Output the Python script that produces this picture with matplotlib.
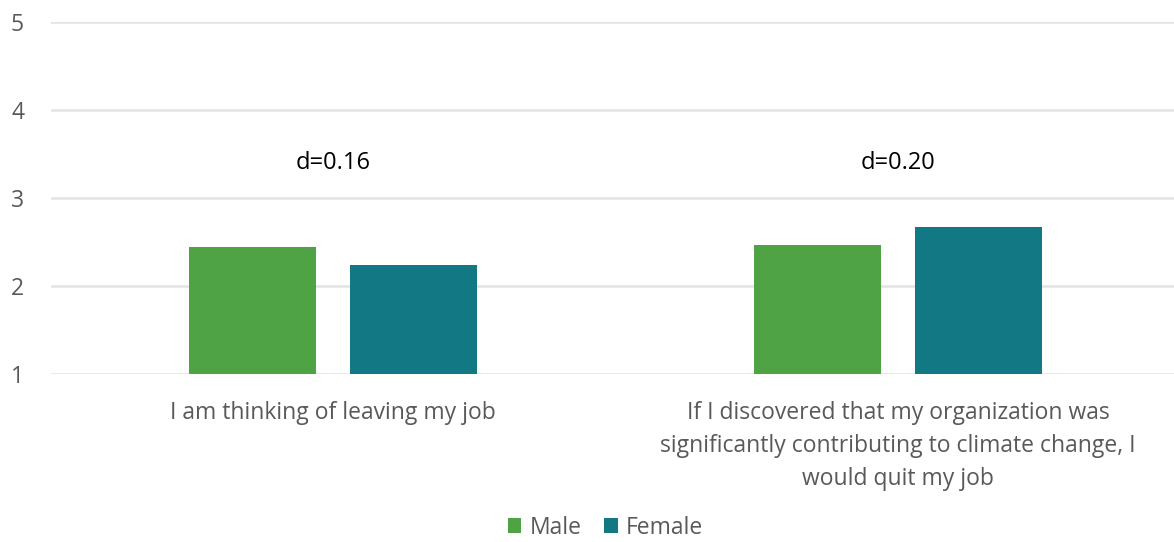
import matplotlib
matplotlib.use("Agg")
import matplotlib.pyplot as plt
import numpy as np

categories = ["I am thinking of leaving my job",
              "If I discovered that my organization was\nsignificantly contributing to climate change, I\nwould quit my job"]
series_names = ["Male", "Female"]
male = [2.45, 2.47]
female = [2.24, 2.67]
d_labels = ["d=0.16", "d=0.20"]
d_y = [3.4, 3.4]
yticks = [1, 2, 3, 4, 5]

colors = ["#50A344", "#127884"]
gray = "#595959"

plt.rcParams['font.family'] = ['Open Sans', 'DejaVu Sans']

fig = plt.figure(figsize=(11.74, 5.42), dpi=100)
ax = fig.add_axes([50.5/1174, 1-374.3/542, 1130/1174, (374.3-22.3)/542])

x = np.arange(len(categories))
w = 0.225
off = 0.1425
ax.bar(x - off, np.array(male) - 1, w, bottom=1, color=colors[0], label=series_names[0], zorder=3)
ax.bar(x + off, np.array(female) - 1, w, bottom=1, color=colors[1], label=series_names[1], zorder=3)

for xi, t, yy in zip(x, d_labels, d_y):
    ax.text(xi, yy, t, ha='center', va='center', fontsize=17, color='black')

ax.set_xlim(-0.5, 1.5)
ax.set_ylim(1, 5)
ax.set_yticks(yticks)
ax.set_yticklabels([str(v) for v in yticks])
ax.set_xticks(x)
ax.set_xticklabels(categories, linespacing=1.5)
ax.tick_params(axis='both', length=0, labelsize=16.5, colors=gray)
ax.tick_params(axis='y', pad=19)
ax.tick_params(axis='x', pad=19)
ax.grid(axis='y', color='#e3e3e3', linewidth=1.8, zorder=0)
for s in ax.spines.values():
    s.set_visible(False)

leg = fig.legend(loc='lower center', bbox_to_anchor=(605.5/1174, -0.021), ncol=2, frameon=False,
                 fontsize=16.5, handlelength=0.6, handleheight=0.6, handletextpad=0.35,
                 columnspacing=1.0, borderaxespad=0.2)
for t in leg.get_texts():
    t.set_color(gray)

fig.savefig("out.png", dpi=100)
